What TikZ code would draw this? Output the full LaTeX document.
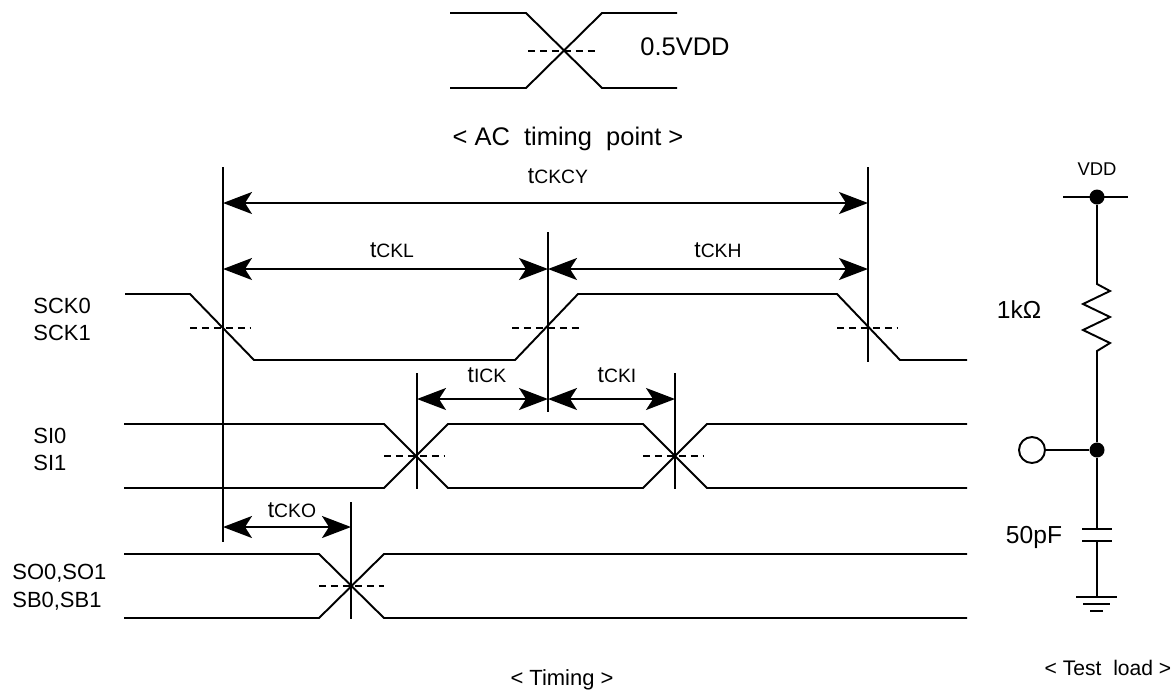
\documentclass[tikz,border=0pt]{standalone}
\usepackage{fontspec}
\setmainfont{Liberation Sans}
\usetikzlibrary{arrows.meta}

\newcommand{\tlab}[1]{{\fontsize{13}{13}\selectfont t}{\fontsize{11}{11}\selectfont #1}}

\begin{document}
\begin{tikzpicture}[x=0.02cm,y=-0.02cm]
\tikzset{wave/.style = {line width=1.1pt}, half/.style = {line width=0.9pt, dash pattern=on 4pt off 2.8pt},
  vline/.style = {line width=1.1pt}, >={Stealth[length=0.58cm,width=0.44cm,inset=0.14cm]}, dim/.style = {<->, line width=1.1pt},
  tl/.style = {anchor=base, inner sep=0pt}, lbl/.style = {anchor=base west, inner sep=0pt, font=\fontsize{12.5}{15}\selectfont},
  dot/.style = {circle, fill, inner sep=0pt, minimum size=0.3cm}}
\useasboundingbox (0,0) rectangle (1173,698);

\draw[wave] (450,13) -- (526,13) -- (602,88) -- (677,88); \draw[wave] (450,88) -- (526,88) -- (602,13) -- (677,13);
\draw[half] (528,51) -- (597,51);
\node[anchor=base west, inner sep=0pt, font=\fontsize{14.5}{17}\selectfont] (vdd half) at (640,55) {0.5VDD};
\node[anchor=base, inner sep=0pt, font=\fontsize{14.5}{17}\selectfont] (ac) at (568,145) {<\ AC\ \ timing\ \ point\ >};

\draw[wave] (125,294) -- (190,294) -- (254,360) -- (515,360) -- (578,294) -- (837,294) -- (900,360) -- (967,360);
\draw[wave] (124,424) -- (384,424) -- (448,488) -- (643,488) -- (707,424) -- (967,424);
\draw[wave] (124,488) -- (384,488) -- (448,424) -- (643,424) -- (707,488) -- (967,488);
\draw[wave] (124,554) -- (319,554) -- (384,618) -- (967,618); \draw[wave] (124,618) -- (319,618) -- (384,554) -- (967,554);
\draw[half] (190,328) -- (250,328); \draw[half] (512,328) -- (579,328); \draw[half] (837,328) -- (897,328);
\draw[half] (384,456) -- (444,456); \draw[half] (643,456) -- (703,456); \draw[half] (319,586) -- (384,586);

\foreach \n/\x/\a/\b in {1/223/167/542, 2/548/232/412, 3/868/167/362, 4/417/373/489, 5/675/373/489, 6/351/502/619}
  {\coordinate (v\n a) at (\x,\a); \coordinate (v\n b) at (\x,\b); \draw[vline] (v\n a) -- (v\n b);}

\coordinate (cy1) at (223,203); \coordinate (cy2) at (868,203); \coordinate (kl1) at (223,269); \coordinate (kl2) at (548,269); \coordinate (kh2) at (868,269);
\coordinate (ik1) at (417,399); \coordinate (ik2) at (548,399); \coordinate (ki2) at (675,399); \coordinate (ko1) at (223,527); \coordinate (ko2) at (351,527);
\draw[dim] (cy1) -- (cy2); \draw[dim] (kl1) -- (kl2); \draw[dim] (kl2) -- (kh2); \draw[dim] (ik1) -- (ik2); \draw[dim] (ik2) -- (ki2); \draw[dim] (ko1) -- (ko2);
\node[tl] (tckcy) at (558,183) {\tlab{CKCY}}; \node[tl] (tckl) at (392,257) {\tlab{CKL}}; \node[tl] (tckh) at (718,257) {\tlab{CKH}};
\node[tl] (tick) at (487,382) {\tlab{ICK}}; \node[tl] (tcki) at (617,382) {\tlab{CKI}}; \node[tl] (tcko) at (292,517) {\tlab{CKO}};

\node[lbl] (sck0) at (33,313) {SCK0}; \node[lbl] (sck1) at (33,340) {SCK1}; \node[lbl] (si0) at (33,443) {SI0}; \node[lbl] (si1) at (33,470) {SI1};
\node[lbl] (so) at (12,579) {SO0,SO1}; \node[lbl] (sb) at (12,607) {SB0,SB1};
\node[tl, font=\fontsize{12.5}{15}\selectfont] (timing) at (562,685) {<\ Timing\ >};

\node[tl, font=\fontsize{10.5}{12}\selectfont] (vdd lbl) at (1097,175) {VDD};
\node[dot] (vdd) at (1097,197) {}; \coordinate (bl) at (1063,197); \coordinate (br) at (1128,197); \draw[wave] (bl) -- (br);
\node[dot] (jn) at (1097,450) {}; \node[circle, draw, line width=1.1pt, minimum size=0.52cm, inner sep=0pt] (out) at (1032,450) {};
\coordinate (r1) at (1097,284); \coordinate (r2) at (1097,351);
\draw[wave] (vdd) -- (r1) -- ++(13,7) -- ++(-27,13) -- ++(27,13) -- ++(-27,13) -- ++(27,13) -- (r2) -- (jn);
\draw[wave] (out) -- (jn);
\coordinate (c1) at (1097,529); \coordinate (c2) at (1097,541); \coordinate (gnd) at (1097,597);
\draw[wave] (jn) -- (c1); \draw[wave] (c2) -- (gnd);
\draw[wave] (1082,529) -- (1112,529); \draw[wave] (1082,541) -- (1112,541);
\draw[wave] (1076,597) -- (1117,597); \draw[wave] (1083,604) -- (1110,604); \draw[wave] (1090,611) -- (1103,611);
\node[tl, font=\fontsize{14}{15}\selectfont] (rlbl) at (1019,318) {1kΩ}; \node[tl, font=\fontsize{14}{15}\selectfont] (clbl) at (1034,543) {50pF};
\node[tl, font=\fontsize{12}{15}\selectfont] (load) at (1108,675) {<\ Test\ \ load\ >};
\end{tikzpicture}
\end{document}
